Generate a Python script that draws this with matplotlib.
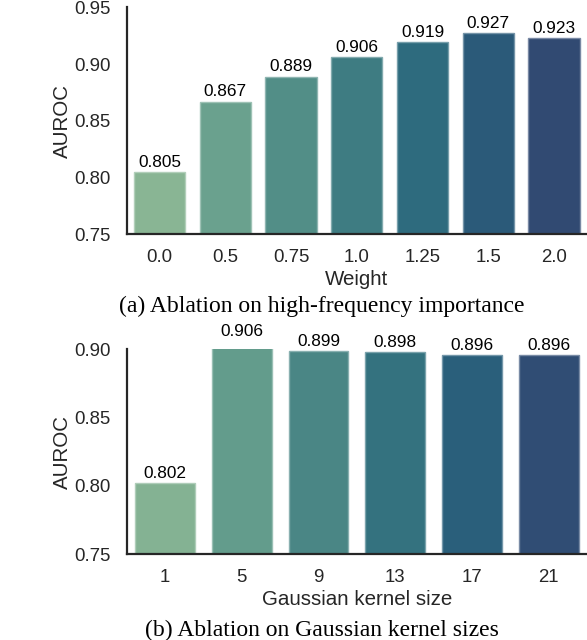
import matplotlib
matplotlib.use("Agg")
import matplotlib.pyplot as plt
import matplotlib.colors as mcolors
import numpy as np
import seaborn as sns

# Data
weights = ["0.0", "0.5", "0.75", "1.0", "1.25", "1.5", "2.0"]
auroc_weight = [0.805, 0.867, 0.889, 0.906, 0.919, 0.927, 0.923]
kernels = ["1", "5", "9", "13", "17", "21"]
auroc_kernel = [0.802, 0.906, 0.899, 0.898, 0.896, 0.896]

plt.rcParams['font.family'] = ['Liberation Sans', 'DejaVu Sans']

TICK = 13.4
LABEL = 14.8
BARLAB = 12.4
CAP = 17
TXT = "#262626"

fig = plt.figure(figsize=(5.87, 6.40), dpi=100)

W, H = 587.0, 640.0
left = 126.7 / W
width = 1.0 - left


def lighten(c, f=0.35):
    r, g, b = mcolors.to_rgb(c)
    return (r + (1 - r) * f, g + (1 - g) * f, b + (1 - b) * f)


def draw(ax, cats, vals, ylim, yticks, xlabel, ylab_x, xlab_y):
    n = len(cats)
    pal = sns.color_palette("crest", n, desat=0.75)
    x = np.arange(n)
    bars = ax.bar(x, vals, width=0.78, color=pal,
                  edgecolor=[lighten(c) for c in pal], linewidth=1.0,
                  zorder=2)
    texts = ax.bar_label(bars, labels=[f"{v:.3f}" for v in vals], padding=1.5,
                         fontsize=BARLAB, color="black")
    for t in texts:
        t.set_annotation_clip(False)
        t.set_clip_on(False)
    ax.set_xlim(-0.5, n - 0.5)
    ax.set_ylim(*ylim)
    ax.set_yticks(yticks)
    ax.set_yticklabels([f"{t:.2f}" for t in yticks])
    ax.set_xticks(x)
    ax.set_xticklabels(cats)
    ax.tick_params(axis="both", length=0, labelsize=TICK, colors=TXT)
    ax.tick_params(axis="y", pad=11.5)
    ax.tick_params(axis="x", pad=10.5)
    for s in ["top", "right"]:
        ax.spines[s].set_visible(False)
    for s in ["left", "bottom"]:
        ax.spines[s].set_linewidth(1.6)
        ax.spines[s].set_color(TXT)
    ax.set_ylabel("AUROC", fontsize=LABEL, color=TXT)
    ax.yaxis.set_label_coords(ylab_x, 0.5)
    ax.set_xlabel(xlabel, fontsize=LABEL, color=TXT)
    ax.xaxis.set_label_coords(0.5, xlab_y)
    ax.set_facecolor("white")


ax1 = fig.add_axes([left, 1 - 234.3 / H, width, 227.0 / H])
draw(ax1, weights, auroc_weight, (0.75, 0.95),
     [0.75, 0.80, 0.85, 0.90, 0.95], "Weight", -0.118, -0.157)

ax2 = fig.add_axes([left, 1 - 554.3 / H, width, 205.0 / H])
draw(ax2, kernels, auroc_kernel, (0.75, 0.90),
     [0.75, 0.80, 0.85, 0.90], "Gaussian kernel size", -0.118, -0.174)

fig.text(322 / W, 1 - 312 / H, "(a) Ablation on high-frequency importance",
         ha="center", va="baseline", fontsize=CAP,
         family=["Liberation Serif", "DejaVu Serif"], color="black")
fig.text(322 / W, 1 - 636 / H, "(b) Ablation on Gaussian kernel sizes",
         ha="center", va="baseline", fontsize=CAP,
         family=["Liberation Serif", "DejaVu Serif"], color="black")

fig.savefig("out.png", dpi=100, facecolor="white")
